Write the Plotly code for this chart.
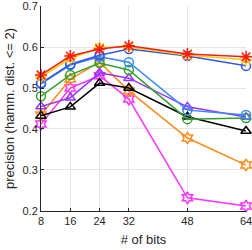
import plotly.graph_objects as go

bits = [8, 16, 24, 32, 48, 64]
red = [0.532, 0.578, 0.595, 0.603, 0.583, 0.576]
yellow = [0.527, 0.572, 0.599, 0.600, 0.580, 0.569]
blue = [0.512, 0.558, 0.580, 0.595, 0.578, 0.554]
lightblue = [0.510, 0.556, 0.576, 0.563, 0.446, 0.434]
green = [0.480, 0.532, 0.561, 0.544, 0.424, 0.427]
purple = [0.455, 0.476, 0.537, 0.524, 0.454, 0.429]
black = [0.432, 0.454, 0.512, 0.500, 0.430, 0.395]
orange = [0.434, 0.522, 0.563, 0.493, 0.378, 0.312]
magenta = [0.412, 0.500, 0.530, 0.473, 0.232, 0.212]
yticks = [0.2, 0.3, 0.4, 0.5, 0.6, 0.7]

series = [
    ("magenta", magenta, "#ff33ff", "hexagram-open"),
    ("orange", orange, "#ff8c1a", "hexagram-open"),
    ("black", black, "#000000", "triangle-up-open"),
    ("purple", purple, "#9933ff", "triangle-up-open"),
    ("green", green, "#33a02c", "circle-open"),
    ("lightblue", lightblue, "#3388ff", "circle-open"),
    ("blue", blue, "#3355ee", "circle-open"),
    ("yellow", yellow, "#ffcc00", "asterisk-open"),
    ("red", red, "#ff1a1a", "asterisk-open"),
]

fig = go.Figure()
for name, vals, col, sym in series:
    fig.add_trace(go.Scatter(
        x=bits, y=vals, mode="lines+markers", name=name, cliponaxis=False,
        line=dict(color=col, width=1.5),
        marker=dict(symbol=sym, size=10 if "asterisk" in sym else 9, color=col,
                    line=dict(color=col, width=1.5)),
    ))

fig.update_layout(
    width=252, height=250,
    margin=dict(l=41, r=6, t=6, b=39),
    showlegend=False,
    plot_bgcolor="white", paper_bgcolor="white",
    font=dict(family="Liberation Sans, Arial, sans-serif", size=11, color="#262626"),
)
fig.update_xaxes(
    range=[7.999, 64.001], tickvals=bits, ticktext=[str(b) for b in bits],
    showgrid=True, gridcolor="#e6e6e6", gridwidth=1,
    showline=True, linecolor="#262626", linewidth=1, mirror=False,
    ticks="inside", ticklen=3, tickcolor="#262626", ticklabeloverflow="allow",
    title=dict(text="# of bits", standoff=8, font=dict(size=13)), zeroline=False,
    automargin=False,
)
fig.update_yaxes(
    range=[0.1999, 0.7001], tickvals=yticks, ticktext=[f"{t:.1f}" for t in yticks],
    showgrid=True, gridcolor="#e6e6e6", gridwidth=1,
    showline=True, linecolor="#262626", linewidth=1,
    ticks="inside", ticklen=3, tickcolor="#262626", ticklabeloverflow="allow",
    title=dict(text="precision (hamm. dist. <= 2)", standoff=4, font=dict(size=13)), zeroline=False,
    automargin=False,
)

fig.write_html("out.html", config={"displayModeBar": False},
               post_script="document.body.style.margin='0';document.body.style.overflow='hidden';")
